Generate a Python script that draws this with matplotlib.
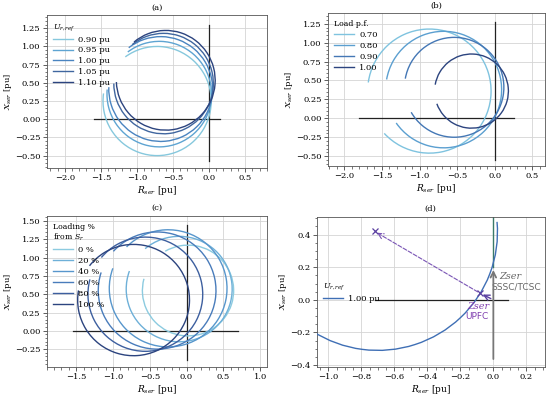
import matplotlib
matplotlib.use("Agg")
import matplotlib.pyplot as plt
from matplotlib.patches import Arc
from matplotlib.lines import Line2D
from matplotlib.ticker import AutoMinorLocator, MultipleLocator

plt.rcParams['font.family'] = 'DejaVu Serif'
plt.rcParams['mathtext.fontset'] = 'dejavuserif'

# (a) reference voltage sweep: circle centre, radius, arc start/end angle (deg)
u_ref_labels = ["0.90 pu", "0.95 pu", "1.00 pu", "1.05 pu", "1.10 pu"]
u_ref_cx = [-0.72, -0.69, -0.67, -0.63, -0.60]
u_ref_cy = [0.25, 0.345, 0.415, 0.49, 0.535]
u_ref_r = [0.75, 0.725, 0.72, 0.69, 0.685]
u_ref_t1 = [172, 175, 178, 180, 182]
u_ref_t2 = [126, 127, 128, 129, 130]
u_ref_colors = ["#86c8dd", "#5ea4d2", "#4a84c0", "#40669f", "#2c447f"]

# (b) load power factor sweep
pf_labels = ["0.70", "0.80", "0.90", "1.00"]
pf_cx = [-0.87, -0.68, -0.54, -0.31]
pf_cy = [0.36, 0.38, 0.41, 0.36]
pf_r = [0.82, 0.77, 0.66, 0.49]
pf_t1 = [223, 215, 210, 200]
pf_t2 = [172, 170, 170, 170]
pf_colors = ["#7fc3df", "#5b9fd0", "#4477b5", "#2c447f"]

# (c) loading sweep
load_labels = ["0 %", "20 %", "40 %", "60 %", "80 %", "100 %"]
load_cx = [0.02, -0.10, -0.25, -0.40, -0.56, -0.72]
load_cy = [0.55, 0.57, 0.58, 0.55, 0.50, 0.42]
load_r = [0.62, 0.72, 0.80, 0.80, 0.78, 0.76]
load_t1 = [165, 160, 160, 162, 165, 170]
load_t2 = [120, 130, 135, 138, 140, 142]
load_colors = ["#8ccbe0", "#6eb0d8", "#5796cc", "#497cbb", "#3d5f9f", "#2c447f"]

# (d) single operating point
d_cx, d_cy, d_r = -0.70, 0.415, 0.725
d_t1, d_t2 = 160, 5
upfc_start = (-0.08, 0.04)
upfc_end = (-0.72, 0.42)
sssc_top = 0.20
sssc_bottom = -0.38

FS = 6


def style_axes(ax, xlim, ylim, xstep, ystep):
    ax.set_xlim(*xlim)
    ax.set_ylim(*ylim)
    ax.xaxis.set_major_locator(MultipleLocator(xstep))
    ax.yaxis.set_major_locator(MultipleLocator(ystep))
    ax.xaxis.set_minor_locator(AutoMinorLocator())
    ax.yaxis.set_minor_locator(AutoMinorLocator())
    ax.grid(True, which='major', color='#d4d4d4', linewidth=0.6)
    ax.tick_params(labelsize=FS, length=3, width=0.6, color='#444444', pad=1.5)
    ax.tick_params(which='minor', length=1.8, width=0.5, color='#444444')
    for s in ax.spines.values():
        s.set_color('#555555')
        s.set_linewidth(0.6)
    ax.set_xlabel(r"$R_{ser}$ [pu]", fontsize=6.5, labelpad=1.5)
    ax.set_ylabel(r"$X_{ser}$ [pu]", fontsize=6, labelpad=0.8)


def draw_arcs(ax, cx, cy, r, t1, t2, colors, labels):
    handles = []
    for x, y, rad, a, b, c, lab in zip(cx, cy, r, t1, t2, colors, labels):
        ax.add_patch(Arc((x, y), 2 * rad, 2 * rad, theta1=a, theta2=b,
                         color=c, lw=1.0, zorder=3))
        handles.append(Line2D([], [], color=c, lw=1.0, label=lab))
    return handles


def add_legend(ax, handles, title, **kw):
    leg = ax.legend(handles=handles, title=title, frameon=False, fontsize=FS,
                    title_fontsize=5.6, handlelength=2.4, handletextpad=0.6,
                    labelspacing=0.35, borderaxespad=0.4, **kw)
    leg._legend_box.align = "left"
    return leg


fig = plt.figure(figsize=(5.5, 3.99), dpi=100)

# (a)
ax = fig.add_axes([0.085, 0.579, 0.400, 0.383])
style_axes(ax, (-2.25, 0.8), (-0.67, 1.43), 0.5, 0.25)
ax.plot([-1.6, 0.15], [0, 0], color='#222222', lw=0.9, zorder=2)
ax.plot([0, 0], [-0.58, 1.3], color='#222222', lw=0.9, zorder=2)
h = draw_arcs(ax, u_ref_cx, u_ref_cy, u_ref_r, u_ref_t1, u_ref_t2, u_ref_colors, u_ref_labels)
add_legend(ax, h, r"$U_{r,ref}$", loc='upper left')
ax.set_title("(a)", fontsize=6, pad=4)

# (b)
ax = fig.add_axes([0.596, 0.584, 0.394, 0.383])
style_axes(ax, (-2.22, 0.66), (-0.63, 1.39), 0.5, 0.25)
ax.plot([-1.8, 0.25], [0, 0], color='#222222', lw=0.9, zorder=2)
ax.plot([0, 0], [-0.55, 1.27], color='#222222', lw=0.9, zorder=2)
h = draw_arcs(ax, pf_cx, pf_cy, pf_r, pf_t1, pf_t2, pf_colors, pf_labels)
add_legend(ax, h, "Load p.f.", loc='upper left')
ax.set_title("(b)", fontsize=6, pad=4)

# (c)
ax = fig.add_axes([0.085, 0.081, 0.400, 0.378])
style_axes(ax, (-1.9, 1.09), (-0.49, 1.57), 0.5, 0.25)
ax.plot([-1.55, 0.7], [0, 0], color='#222222', lw=0.9, zorder=2)
ax.plot([0, 0], [-0.4, 1.45], color='#222222', lw=0.9, zorder=2)
h = draw_arcs(ax, load_cx, load_cy, load_r, load_t1, load_t2, load_colors, load_labels)
add_legend(ax, h, "Loading %\nfrom $S_r$", loc='upper left')
ax.set_title("(c)", fontsize=6, pad=4)

# (d)
ax = fig.add_axes([0.576, 0.081, 0.414, 0.376])
style_axes(ax, (-1.07, 0.31), (-0.41, 0.51), 0.2, 0.2)
ax.plot([-0.72, 0.09], [0, 0], color='#222222', lw=0.9, zorder=2)
ax.plot([0, 0], [sssc_top, 0.6], color='#3b7a68', lw=1.0, zorder=2)
h = draw_arcs(ax, [d_cx], [d_cy], [d_r], [d_t1], [d_t2], ["#3f6fb5"], ["1.00 pu"])
add_legend(ax, h, r"$U_{r,ref}$", loc='center left', bbox_to_anchor=(0.0, 0.5))
ax.annotate("", xy=(0, sssc_top), xytext=(0, sssc_bottom),
            arrowprops=dict(arrowstyle='->', color='#777777', lw=1.3), zorder=4)
ax.annotate("", xy=upfc_start, xytext=(0, 0),
            arrowprops=dict(arrowstyle='->', color='#5a3fa0', lw=1.0), zorder=4)
ax.annotate("", xy=upfc_end, xytext=upfc_start,
            arrowprops=dict(arrowstyle='->', color='#7a55b5', lw=0.8, ls='--'), zorder=4)
ax.plot([upfc_start[0], upfc_end[0]], [upfc_start[1], upfc_end[1]], 'x',
        color='#5a3fa0', ms=4, mew=0.9, zorder=5)
ax.text(0.105, 0.143, "Zser", fontsize=7, style='italic', color='#666666',
        ha='center', va='center')
ax.text(0.136, 0.078, "SSSC/TCSC", fontsize=6.5, family='DejaVu Sans',
        color='#666666', ha='center', va='center')
ax.text(-0.09, -0.04, "Zser", fontsize=7, style='italic', color='#8040b0',
        ha='center', va='center')
ax.text(-0.10, -0.105, "UPFC", fontsize=6.5, family='DejaVu Sans',
        color='#8040b0', ha='center', va='center')
ax.set_title("(d)", fontsize=6, pad=4)

fig.savefig("out.png", dpi=100)
